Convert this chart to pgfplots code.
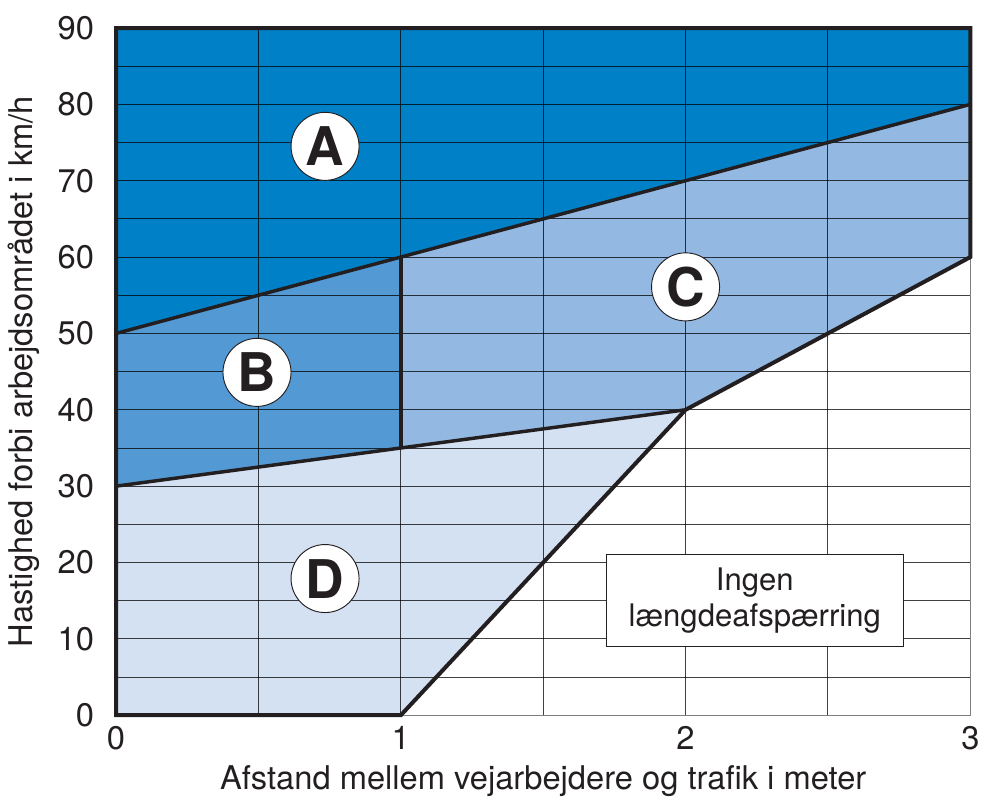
\documentclass[border=0pt]{standalone}
\usepackage{pgfplots}
\pgfplotsset{compat=1.18}
\usepackage{fontspec}
\setmainfont{TeX Gyre Heros}
\definecolor{colA}{HTML}{0080C6}
\definecolor{colB}{HTML}{5399D3}
\definecolor{colC}{HTML}{93B9E2}
\definecolor{colD}{HTML}{D4E1F2}
\definecolor{edge}{HTML}{231F20}
\begin{document}
\begin{tikzpicture}
\begin{axis}[
  set layers,
  scale only axis,
  width=640.5pt, height=515.25pt,
  xmin=0, xmax=3, ymin=0, ymax=90,
  xtick={0,1,2,3}, minor xtick={0.5,1.5,2.5},
  ytick={0,10,...,90}, minor ytick={5,15,...,85},
  major tick length=0pt, minor tick length=0pt,
  grid=both,
  grid style={black, draw opacity=0.75, line width=0.7pt},
  minor grid style={black, draw opacity=0.75, line width=0.7pt},
  axis line style={gray, line width=0.7pt},
  clip=false,
  /pgf/number format/assume math mode=true,
  tick label style={font=\fontsize{24.5}{28}\selectfont, text=edge},
  xticklabel style={yshift=-5pt, inner xsep=0pt},
  yticklabel style={xshift=-13pt},
  label style={font=\fontsize{24.5}{28}\selectfont, text=edge},
  xlabel={Afstand mellem vejarbejdere og trafik i meter},
  ylabel={Hastighed forbi arbejdsområdet i km/h},
  xlabel style={at={(axis description cs:0.5,-0.1087)}, anchor=base, inner ysep=0pt},
  ylabel style={at={(axis description cs:-0.1077,0.5)}, anchor=center},
]
% bounding box extents (invisible)
\path (rel axis cs:0,0) ++(-87pt,-62pt);
\path (rel axis cs:1,1) ++(8pt,21pt);
% filled regions
\addplot[fill=colA, draw=none, on layer=axis background] coordinates {(0,50) (3,80) (3,90) (0,90)};
\addplot[fill=colB, draw=none, on layer=axis background] coordinates {(0,30) (1,35) (1,60) (0,50)};
\addplot[fill=colC, draw=none, on layer=axis background] coordinates {(1,35) (2,40) (3,60) (3,80) (1,60)};
\addplot[fill=colD, draw=none, on layer=axis background] coordinates {(0,0) (1,0) (2,40) (1,35) (0,30)};
% outlines
\addplot[edge, line width=3pt, line join=miter] coordinates {(0,0) (1,0) (2,40) (3,60) (3,90) (0,90) (0,0)} -- cycle;
\addplot[edge, line width=2.6pt] coordinates {(0,50) (3,80)};
\addplot[edge, line width=2.6pt] coordinates {(0,30) (1,35) (2,40)};
\addplot[edge, line width=2.6pt] coordinates {(1,35) (1,60)};
% labels
\node[circle, draw=edge, line width=0.7pt, fill=white, minimum size=51pt, inner sep=0pt, font=\fontsize{40}{40}\selectfont\bfseries, text=edge] at (axis cs:0.734,74.5) {A};
\node[circle, draw=edge, line width=0.7pt, fill=white, minimum size=51pt, inner sep=0pt, font=\fontsize{40}{40}\selectfont\bfseries, text=edge] at (axis cs:0.495,44.9) {B};
\node[circle, draw=edge, line width=0.7pt, fill=white, minimum size=51pt, inner sep=0pt, font=\fontsize{40}{40}\selectfont\bfseries, text=edge] at (axis cs:2.0,56.1) {C};
\node[circle, draw=edge, line width=0.7pt, fill=white, minimum size=51pt, inner sep=0pt, font=\fontsize{40}{40}\selectfont\bfseries, text=edge] at (axis cs:0.734,17.9) {D};
\node[draw=edge, line width=0.7pt, fill=white, minimum width=223pt, minimum height=69pt, align=center, font=\fontsize{23.3}{27}\selectfont, text=edge] at (axis cs:2.243,15.07) {Ingen\\længdeafspærring};
\end{axis}
\end{tikzpicture}
\end{document}
